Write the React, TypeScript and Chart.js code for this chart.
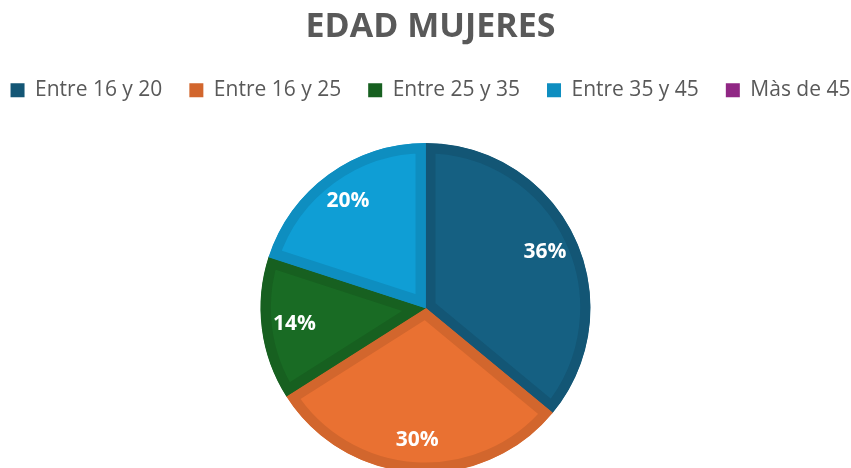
import React, { useEffect, useRef } from "react";
import { Chart, registerables } from "chart.js";

Chart.register(...registerables);

const chartTitle = "EDAD MUJERES";
const categories = ["Entre 16 y 20", "Entre 16 y 25", "Entre 25 y 35", "Entre 35 y 45", "Màs de 45"];
const values = [36, 30, 14, 20, 0];
const fillColors = ["#156082", "#E97132", "#196B24", "#0F9ED5", "#A02B93"];
const edgeColors = ["#135675", "#D2662D", "#176020", "#0E8EC0", "#902784"];

const FONT = "'Open Sans', 'DejaVu Sans', sans-serif";

const pieLabels = {
  id: "pieLabels",
  afterDatasetsDraw(chart: any) {
    const ctx = chart.ctx;
    const meta = chart.getDatasetMeta(0);
    const data = chart.data.datasets[0].data as number[];
    const total = data.reduce((a, b) => a + b, 0);
    ctx.save();
    ctx.font = `bold 21px ${FONT}`;
    ctx.fillStyle = "#FFFFFF";
    ctx.textAlign = "center";
    ctx.textBaseline = "middle";
    meta.data.forEach((arc: any, i: number) => {
      const v = data[i];
      if (!v) return;
      const p = arc.getProps(["x", "y", "startAngle", "endAngle", "outerRadius"], true);
      const mid = (p.startAngle + p.endAngle) / 2;
      const r = p.outerRadius * 0.8;
      ctx.fillText(Math.round((v / total) * 100) + "%", p.x + Math.cos(mid) * r, p.y + Math.sin(mid) * r);
    });
    ctx.restore();
  },
};

export default function App() {
  const ref = useRef<HTMLCanvasElement | null>(null);
  useEffect(() => {
    document.body.style.margin = "0";
    const canvas = ref.current;
    if (!canvas) return;
    const chart = new Chart(canvas, {
      type: "pie",
      data: {
        labels: categories,
        datasets: [
          {
            data: values,
            backgroundColor: fillColors,
            borderColor: edgeColors,
            borderWidth: 10,
            borderAlign: "inner",
            clip: false,
          } as any,
        ],
      },
      options: {
        responsive: false,
        animation: false,
        radius: 165,
        layout: { padding: { left: -17, right: -27, top: 0, bottom: 0 } },
        font: { family: FONT },
        plugins: {
          title: {
            display: true,
            text: chartTitle,
            color: "#595959",
            font: { family: FONT, size: 34, weight: "bold" },
            padding: { top: 7, bottom: 5 },
          },
          legend: {
            display: true,
            position: "top",
            labels: {
              color: "#595959",
              font: { family: FONT, size: 21 },
              boxWidth: 14,
              boxHeight: 14,
              padding: 27,
              generateLabels(c: any) {
                const base = Chart.overrides.pie.plugins.legend.labels.generateLabels(c);
                return base.map((l: any, i: number) => ({
                  ...l,
                  fillStyle: edgeColors[i],
                  strokeStyle: edgeColors[i],
                  lineWidth: 0,
                  hidden: false,
                }));
              },
            },
            onClick: () => {},
          },
          tooltip: { enabled: false },
        },
      } as any,
      plugins: [pieLabels],
    });
    return () => chart.destroy();
  }, []);
  return (
    <div style={{ width: 851, height: 468, overflow: "hidden", background: "#FFFFFF" }}>
      <canvas ref={ref} width={851} height={505} style={{ display: "block" }} />
    </div>
  );
}
